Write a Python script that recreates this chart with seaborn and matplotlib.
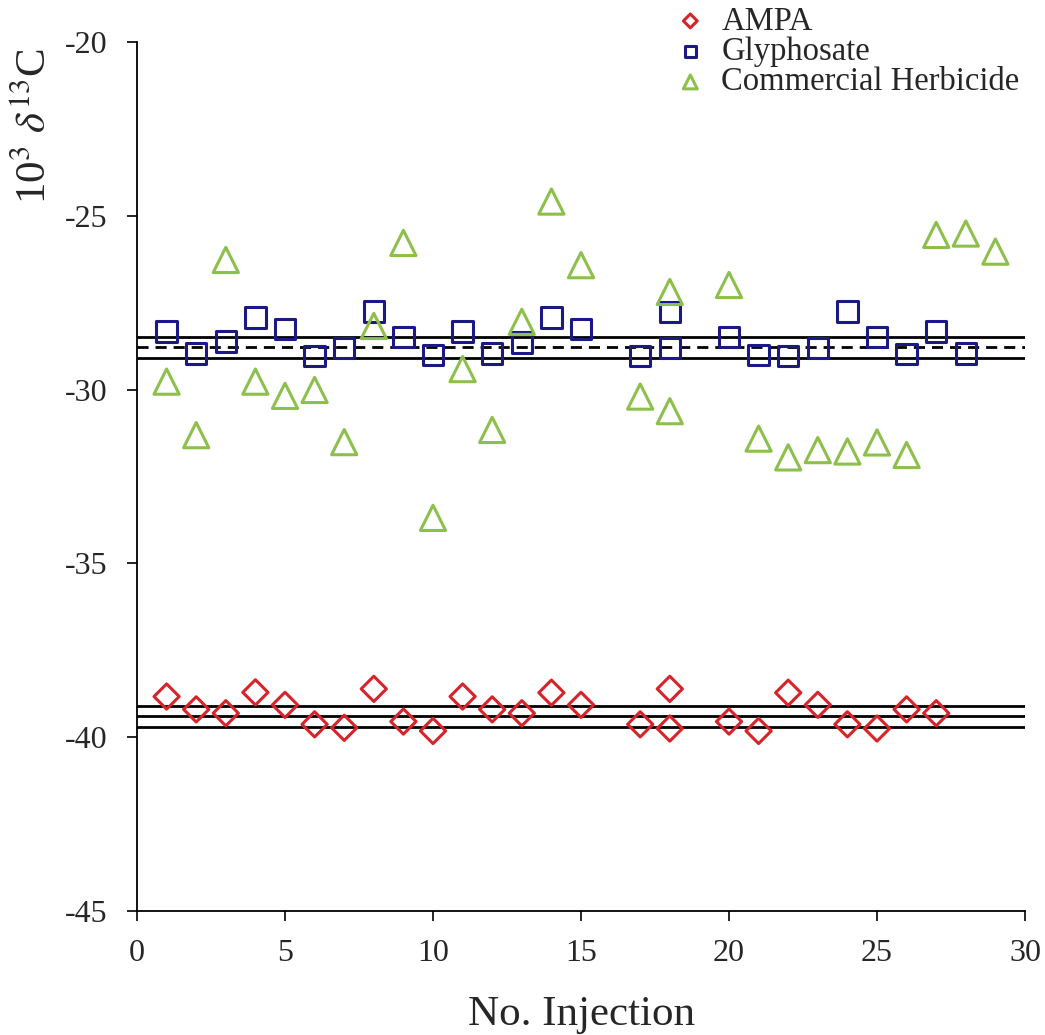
import matplotlib
matplotlib.use("Agg")
import matplotlib.pyplot as plt
import seaborn as sns
import numpy as np

# ---- data ----
ampa_x = [1, 2, 3, 4, 5, 6, 7, 8, 9, 10, 11, 12, 13, 14, 15, 17, 18, 18, 20, 21, 22, 23, 24, 25, 26, 27]
ampa_y = [-38.83, -39.20, -39.31, -38.71, -39.07, -39.63, -39.73, -38.61, -39.55, -39.82,
          -38.83, -39.20, -39.31, -38.72, -39.07, -39.63, -38.61, -39.75, -39.55, -39.82,
          -38.72, -39.07, -39.63, -39.75, -39.20, -39.31]

gly_x = [1, 2, 3, 4, 5, 6, 7, 8, 9, 10, 11, 12, 13, 14, 15, 17, 18, 18, 20, 21, 22, 23, 24, 25, 26, 27, 28]
gly_y = [-28.33, -28.96, -28.62, -27.93, -28.26, -29.04, -28.81, -27.75, -28.48, -29.00,
         -28.33, -28.96, -28.64, -27.93, -28.26, -29.04, -27.76, -28.81, -28.49, -29.00,
         -29.04, -28.81, -27.75, -28.48, -28.98, -28.33, -28.96]

herb_x = [1, 2, 3, 4, 5, 6, 7, 8, 9, 10, 11, 12, 13, 14, 15, 17, 18, 18, 20, 21, 22, 23, 24, 25, 26, 27, 28, 29]
herb_y = [-29.77, -31.31, -26.27, -29.77, -30.18, -30.01, -31.51, -28.17, -25.78, -33.69,
          -29.41, -31.16, -28.05, -24.59, -26.42, -30.20, -27.19, -30.62, -26.99, -31.41,
          -31.95, -31.74, -31.78, -31.52, -31.88, -25.55, -25.51, -26.03]

# reference lines (mean and bounds)
gly_lines = [-28.50, -28.78, -29.10]
gly_styles = ["-", "--", "-"]
ampa_lines = [-39.09, -39.39, -39.70]

labels = ["AMPA", "Glyphosate", "Commercial Herbicide"]
colors = ["#d8232a", "#1b1a85", "#8cc04b"]

xticks = [0, 5, 10, 15, 20, 25, 30]
yticks = [-45, -40, -35, -30, -25, -20]

# ---- style ----
sns.set_style("ticks")
plt.rcParams["font.family"] = ["Liberation Serif", "DejaVu Serif"]
plt.rcParams["mathtext.fontset"] = "stix"
plt.rcParams["axes.unicode_minus"] = False

fig = plt.figure(figsize=(10.45, 10.35), dpi=100)
ax = fig.add_axes([137 / 1045, 1 - 911 / 1035, 888 / 1045, 869 / 1035])

for v, ls in zip(gly_lines, gly_styles):
    if ls == "--":
        ax.axhline(v, color="black", lw=2.0, ls=ls, dashes=(4, 2.5), zorder=1)
    else:
        ax.axhline(v, color="black", lw=2.0, ls=ls, zorder=1)
for v in ampa_lines:
    ax.axhline(v, color="black", lw=2.0, zorder=1)

sns.scatterplot(x=ampa_x, y=ampa_y, marker="D", s=165, facecolor="none",
                edgecolor=colors[0], linewidth=2.2, label=labels[0], ax=ax, zorder=3)
sns.scatterplot(x=gly_x, y=gly_y, marker="s", s=215, facecolor="none",
                edgecolor=colors[1], linewidth=2.2, label=labels[1], ax=ax, zorder=3)
sns.scatterplot(x=herb_x, y=herb_y, marker="^", s=330, facecolor="none",
                edgecolor=colors[2], linewidth=2.2, label=labels[2], ax=ax, zorder=3)

ax.set_xlim(0, 30)
ax.set_ylim(-45, -20)
ax.set_xticks(xticks)
ax.set_yticks(yticks)
ax.tick_params(axis="both", direction="out", length=7, width=1.2, labelsize=23, color="black")
ax.tick_params(axis="x", pad=13)
ax.tick_params(axis="y", pad=14)
for side in ["left", "bottom"]:
    ax.spines[side].set_linewidth(1.3)
    ax.spines[side].set_color("black")
sns.despine(ax=ax)

ax.set_xlabel("No. Injection", fontsize=31, labelpad=20)
ax.set_ylabel(r"10$^3$ $\delta^{13}$C", fontsize=31)
ax.yaxis.set_label_coords(-0.092, 0.903)

leg = ax.legend(loc="upper left", bbox_to_anchor=(674 / 1045, 1 - 6 / 1035),
                bbox_transform=fig.transFigure, frameon=False, fontsize=23.5,
                markerscale=0.55, handlelength=1.0, handletextpad=0.45,
                labelspacing=0.0, borderpad=0, borderaxespad=0)

fig.savefig("out.png", dpi=100)
